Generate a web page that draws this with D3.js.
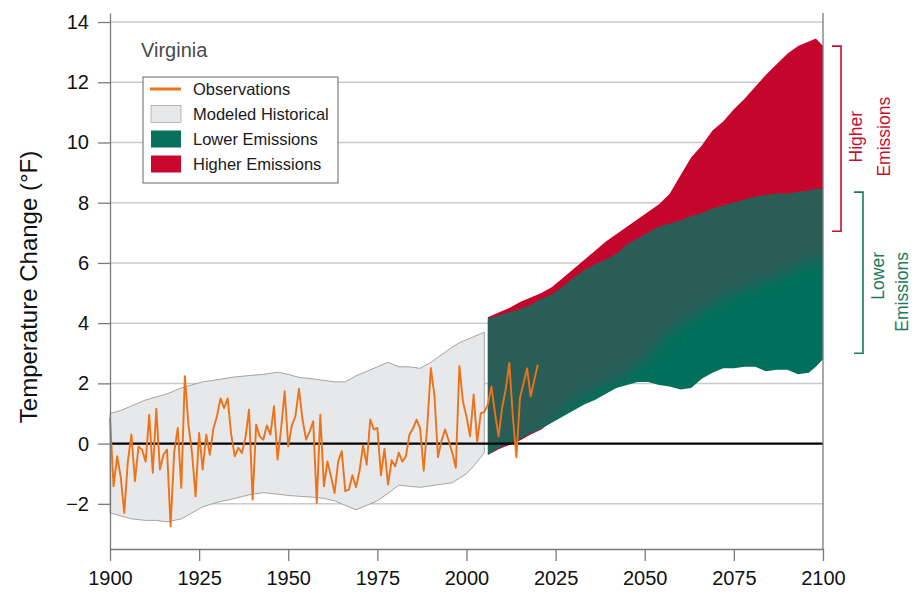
<!DOCTYPE html>
<html>
<head>
<meta charset="utf-8">
<script src="https://cdn.jsdelivr.net/npm/d3@7"></script>
<style>
  html, body { margin: 0; padding: 0; background: #fff; }
  svg { display: block; font-family: "Liberation Sans", Arial, Helvetica, sans-serif; }
</style>
</head>
<body>
<svg id="chart" width="922" height="595"></svg>
<script>
// ---- Observed annual temperature change (°F), 1900–2020 ----
const obsStartYear = 1900;
const obsValues = [
  0.85, -1.42, -0.42, -1.1, -2.3, -0.6, 0.3, -1.25, -0.1, -0.2,      // 1900s
  -0.6, 0.96, -0.97, 1.16, -0.86, -0.37, -0.2, -2.75, -0.3, 0.52,    // 1910s
  -1.47, 2.24, 0.63, -0.3, -1.75, 0.35, -0.86, 0.3, -0.37, 0.5,      // 1920s
  0.9, 1.5, 1.18, 1.5, 0.3, -0.42, -0.14, -0.31, 0.2, 1.13,          // 1930s
  -1.86, 0.63, 0.24, 0.13, 0.6, 0.3, 1.24, -0.53, 0.5, 1.74,         // 1940s
  -0.09, 0.6, 0.9, 1.82, 0.8, 0.13, 0.4, 0.74, -1.97, 0.96,          // 1950s
  -1.42, -0.59, -1.1, -1.64, -0.6, -0.25, -1.58, -1.53, -1.05, -1.45,// 1960s
  -0.9, -0.06, -0.7, 0.8, 0.47, 0.52, -1.05, -0.17, -1.36, -0.55,    // 1970s
  -0.75, -0.3, -0.6, -0.42, 0.3, 0.5, 0.8, 0.5, -0.9, 0.6,           // 1980s
  2.51, 1.6, -0.45, 0.1, 0.47, 0.1, -0.3, -0.8, 2.57, 1.4,           // 1990s
  0.9, 0.24, 1.63, 0.05, 1.0, 1.05, 1.3, 1.9, 1.0, 0.24,             // 2000s
  1.2, 1.8, 2.68, 0.9, -0.45, 1.52, 2.0, 2.5, 1.57, 2.1,             // 2010s
  2.62                                                               // 2020
];

// ---- Modeled historical range (°F) ----
const histYears = [1900, 1903, 1906, 1910, 1913, 1916, 1920, 1923, 1926, 1930, 1934, 1939,
  1943, 1947, 1950, 1953, 1957, 1960, 1963, 1966, 1969, 1972, 1975, 1978, 1981, 1984,
  1987, 1990, 1993, 1996, 1998, 2000, 2002, 2004, 2005];
const histUpper = [1.0, 1.1, 1.25, 1.45, 1.55, 1.65, 1.85, 1.95, 2.05, 2.12, 2.2, 2.26,
  2.3, 2.37, 2.3, 2.2, 2.15, 2.1, 2.05, 2.05, 2.25, 2.4, 2.55, 2.7, 2.55, 2.55,
  2.5, 2.7, 2.95, 3.2, 3.35, 3.45, 3.55, 3.65, 3.7];
const histLower = [-2.3, -2.4, -2.5, -2.55, -2.55, -2.6, -2.5, -2.3, -2.1, -1.95, -1.85, -1.7,
  -1.63, -1.68, -1.72, -1.75, -1.78, -1.82, -1.9, -2.05, -2.2, -2.05, -1.9, -1.65, -1.38, -1.42,
  -1.45, -1.4, -1.35, -1.3, -1.15, -1.0, -0.75, -0.45, -0.3];

// ---- Projected ranges (°F), 2006–2100 ----
const projYears = [2006, 2009, 2012, 2015, 2018, 2021, 2024, 2027, 2030, 2033, 2036, 2039,
  2042, 2045, 2048, 2051, 2054, 2057, 2060, 2063, 2066, 2069, 2072, 2075, 2078, 2081,
  2084, 2087, 2090, 2093, 2096, 2098, 2100];
const lowerUpper = [4.15, 4.25, 4.35, 4.45, 4.6, 4.8, 4.95, 5.2, 5.5, 5.75, 5.95, 6.1,
  6.3, 6.6, 6.8, 7.0, 7.2, 7.3, 7.4, 7.55, 7.65, 7.8, 7.9, 8.0, 8.1, 8.2,
  8.25, 8.3, 8.3, 8.35, 8.4, 8.45, 8.45];
const lowerLower = [-0.36, -0.15, 0.0, 0.15, 0.35, 0.5, 0.7, 0.9, 1.1, 1.3, 1.45, 1.65,
  1.85, 1.95, 2.05, 2.05, 1.95, 1.9, 1.8, 1.85, 2.15, 2.35, 2.5, 2.5, 2.55, 2.55,
  2.4, 2.45, 2.45, 2.3, 2.35, 2.55, 2.8];
const higherUpper = [4.2, 4.35, 4.5, 4.7, 4.85, 5.0, 5.2, 5.5, 5.8, 6.1, 6.4, 6.7,
  6.95, 7.2, 7.45, 7.7, 7.95, 8.3, 8.9, 9.5, 9.9, 10.4, 10.7, 11.1, 11.45, 11.85,
  12.25, 12.6, 12.95, 13.2, 13.35, 13.45, 13.2];
const higherLower = [-0.38, -0.19, -0.05, 0.1, 0.3, 0.47, 0.75, 1.05, 1.35, 1.6, 1.8, 1.95,
  2.1, 2.3, 2.6, 2.9, 3.3, 3.7, 3.95, 4.2, 4.4, 4.6, 4.8, 4.95, 5.1, 5.25,
  5.4, 5.55, 5.7, 5.85, 6.0, 6.1, 6.2];

// ---- Axis ticks and labels ----
const xTicks = [1900, 1925, 1950, 1975, 2000, 2025, 2050, 2075, 2100];
const yTicks = [-2, 0, 2, 4, 6, 8, 10, 12, 14];
const stateName = "Virginia";
const yTitle = "Temperature Change (°F)";
const legendItems = [
  { label: "Observations", kind: "line", color: "#ee7218" },
  { label: "Modeled Historical", kind: "box", color: "#e6e8ea", stroke: "#a8a8a8" },
  { label: "Lower Emissions", kind: "box", color: "#08705a" },
  { label: "Higher Emissions", kind: "box", color: "#c8062e" }
];
// Range brackets at the right edge: [low, high] in °F
const higherBracket = [7.05, 13.2];
const lowerBracket = [3.0, 8.35];

// ---- Colours ----
const C = {
  obs: "#ee7218",
  hist: "#e6e8ea",
  histStroke: "#9b9b9b",
  higher: "#c4062d",
  lower: "#00705c",
  overlap: "#2c5d57",
  grid: "#cbcbcb",
  axis: "#7a7a7a",
  red: "#c8102e",
  green: "#1a7a5c"
};

// ---- Layout ----
const svg = d3.select("#chart");
const x = d3.scaleLinear().domain([1900, 2100]).range([110, 823]);
const y = d3.scaleLinear().domain([-3.5, 14.3]).range([549, 13]);
const [x0, x1] = x.range();

// gridlines
svg.append("g").selectAll("line")
  .data(yTicks.filter(v => v !== 0))
  .join("line")
  .attr("x1", x0).attr("x2", x1)
  .attr("y1", d => y(d)).attr("y2", d => y(d))
  .attr("stroke", C.grid).attr("stroke-width", 1.5);

// modeled historical band
const histData = histYears.map((yr, i) => ({ yr, lo: histLower[i], hi: histUpper[i] }));
svg.append("path")
  .datum(histData)
  .attr("d", d3.area().x(d => x(d.yr)).y0(d => y(d.lo)).y1(d => y(d.hi)))
  .attr("fill", C.hist)
  .attr("stroke", C.histStroke).attr("stroke-width", 0.9);

// projections
const projData = projYears.map((yr, i) => ({
  yr, gLo: lowerLower[i], gHi: lowerUpper[i], rLo: higherLower[i], rHi: higherUpper[i]
}));
const defs = svg.append("defs");
defs.append("filter").attr("id", "soft")
  .attr("x", "-10%").attr("y", "-10%").attr("width", "120%").attr("height", "120%")
  .append("feGaussianBlur").attr("stdDeviation", 7);

const greenArea = d3.area().x(d => x(d.yr)).y0(d => y(d.gLo)).y1(d => y(d.gHi));
defs.append("clipPath").attr("id", "greenClip")
  .append("path").datum(projData).attr("d", greenArea);

// higher emissions range
svg.append("path")
  .datum(projData)
  .attr("d", d3.area().x(d => x(d.yr)).y0(d => y(d.rLo)).y1(d => y(d.rHi)))
  .attr("fill", C.higher);

// lower emissions range
svg.append("path")
  .datum(projData)
  .attr("d", greenArea)
  .attr("fill", C.lower);

// where the two ranges overlap the lower-emissions shading is darker
const last = projData.length - 1;
svg.append("g").attr("clip-path", "url(#greenClip)")
  .append("path")
  .datum(projData)
  .attr("d", d3.area()
    .x((d, i) => x(d.yr) + (i === 0 ? -14 : i === last ? 14 : 0))
    .y0(d => y(d.rLo)).y1(d => y(d.rHi) - 6))
  .attr("fill", C.overlap)
  .attr("filter", "url(#soft)");

// zero line
svg.append("line")
  .attr("x1", x0).attr("x2", x1)
  .attr("y1", y(0)).attr("y2", y(0))
  .attr("stroke", "#000").attr("stroke-width", 2.2);

// observations
svg.append("path")
  .datum(obsValues)
  .attr("d", d3.line().x((d, i) => x(obsStartYear + i)).y(d => y(d)))
  .attr("fill", "none")
  .attr("stroke", C.obs).attr("stroke-width", 1.9)
  .attr("stroke-linejoin", "round");

// axes
const gx = svg.append("g").attr("transform", `translate(0,${y.range()[0]})`)
  .call(d3.axisBottom(x).tickValues(xTicks).tickFormat(d3.format("d"))
    .tickSize(12).tickSizeOuter(0).tickPadding(10));
const gy = svg.append("g").attr("transform", `translate(${x0},0)`)
  .call(d3.axisLeft(y).tickValues(yTicks).tickFormat(d => d < 0 ? "\u2212" + Math.abs(d) : d)
    .tickSize(12).tickSizeOuter(0).tickPadding(9));
[gx, gy].forEach(g => {
  g.select(".domain").attr("stroke", C.axis).attr("stroke-width", 1.3);
  g.selectAll(".tick line").attr("stroke", C.axis).attr("stroke-width", 1.3);
  g.selectAll(".tick text").attr("fill", "#111").style("font-size", "20px")
    .style("font-family", '"Liberation Sans", Arial, sans-serif');
});
// right frame edge
svg.append("line")
  .attr("x1", x1).attr("x2", x1)
  .attr("y1", y.range()[1]).attr("y2", y.range()[0])
  .attr("stroke", C.axis).attr("stroke-width", 1.3);

// y-axis title
svg.append("text")
  .attr("transform", `translate(37,${(y.range()[0] + y.range()[1]) / 2 + 6}) rotate(-90)`)
  .attr("text-anchor", "middle")
  .attr("fill", "#111")
  .style("font-size", "24px")
  .text(yTitle);

// state name
svg.append("text")
  .attr("x", 141).attr("y", 57)
  .attr("fill", "#4a4a4a")
  .style("font-size", "20px")
  .text(stateName);

// legend
const lg = svg.append("g").attr("transform", "translate(143,77)");
lg.append("rect")
  .attr("width", 195).attr("height", 106)
  .attr("fill", "#fff").attr("stroke", "#666").attr("stroke-width", 1);
const rowY = [12, 37, 62, 87];
legendItems.forEach((it, i) => {
  const g = lg.append("g").attr("transform", `translate(0,${rowY[i]})`);
  if (it.kind === "line") {
    g.append("line").attr("x1", 7).attr("x2", 38).attr("y1", 0).attr("y2", 0)
      .attr("stroke", it.color).attr("stroke-width", 3);
  } else {
    g.append("rect").attr("x", 8).attr("y", -8.5).attr("width", 30).attr("height", 17)
      .attr("fill", it.color)
      .attr("stroke", it.stroke || "none").attr("stroke-width", 0.8);
  }
  g.append("text").attr("x", 50).attr("y", 6)
    .attr("fill", "#1a1a1a")
    .style("font-size", "16.5px")
    .text(it.label);
});

// range brackets
function bracket(range, bx, color) {
  const [lo, hi] = range;
  svg.append("path")
    .attr("d", `M${bx - 9},${y(hi)}H${bx}V${y(lo)}H${bx - 9}`)
    .attr("fill", "none").attr("stroke", color).attr("stroke-width", 1.6);
}
bracket(higherBracket, 841, C.red);
bracket(lowerBracket, 863, C.green);

function vText(str, tx, ty, color, anchor) {
  svg.append("text")
    .attr("transform", `translate(${tx},${ty}) rotate(-90)`)
    .attr("text-anchor", anchor)
    .attr("fill", color)
    .style("font-size", "17.5px")
    .text(str);
}
const hiMid = (y(higherBracket[0]) + y(higherBracket[1])) / 2;
vText("Higher", 862, hiMid - 2, C.red, "middle");
vText("Emissions", 890, hiMid - 2, C.red, "middle");
vText("Lower", 884, 252, C.green, "end");
vText("Emissions", 908, 252, C.green, "end");
</script>
</body>
</html>
